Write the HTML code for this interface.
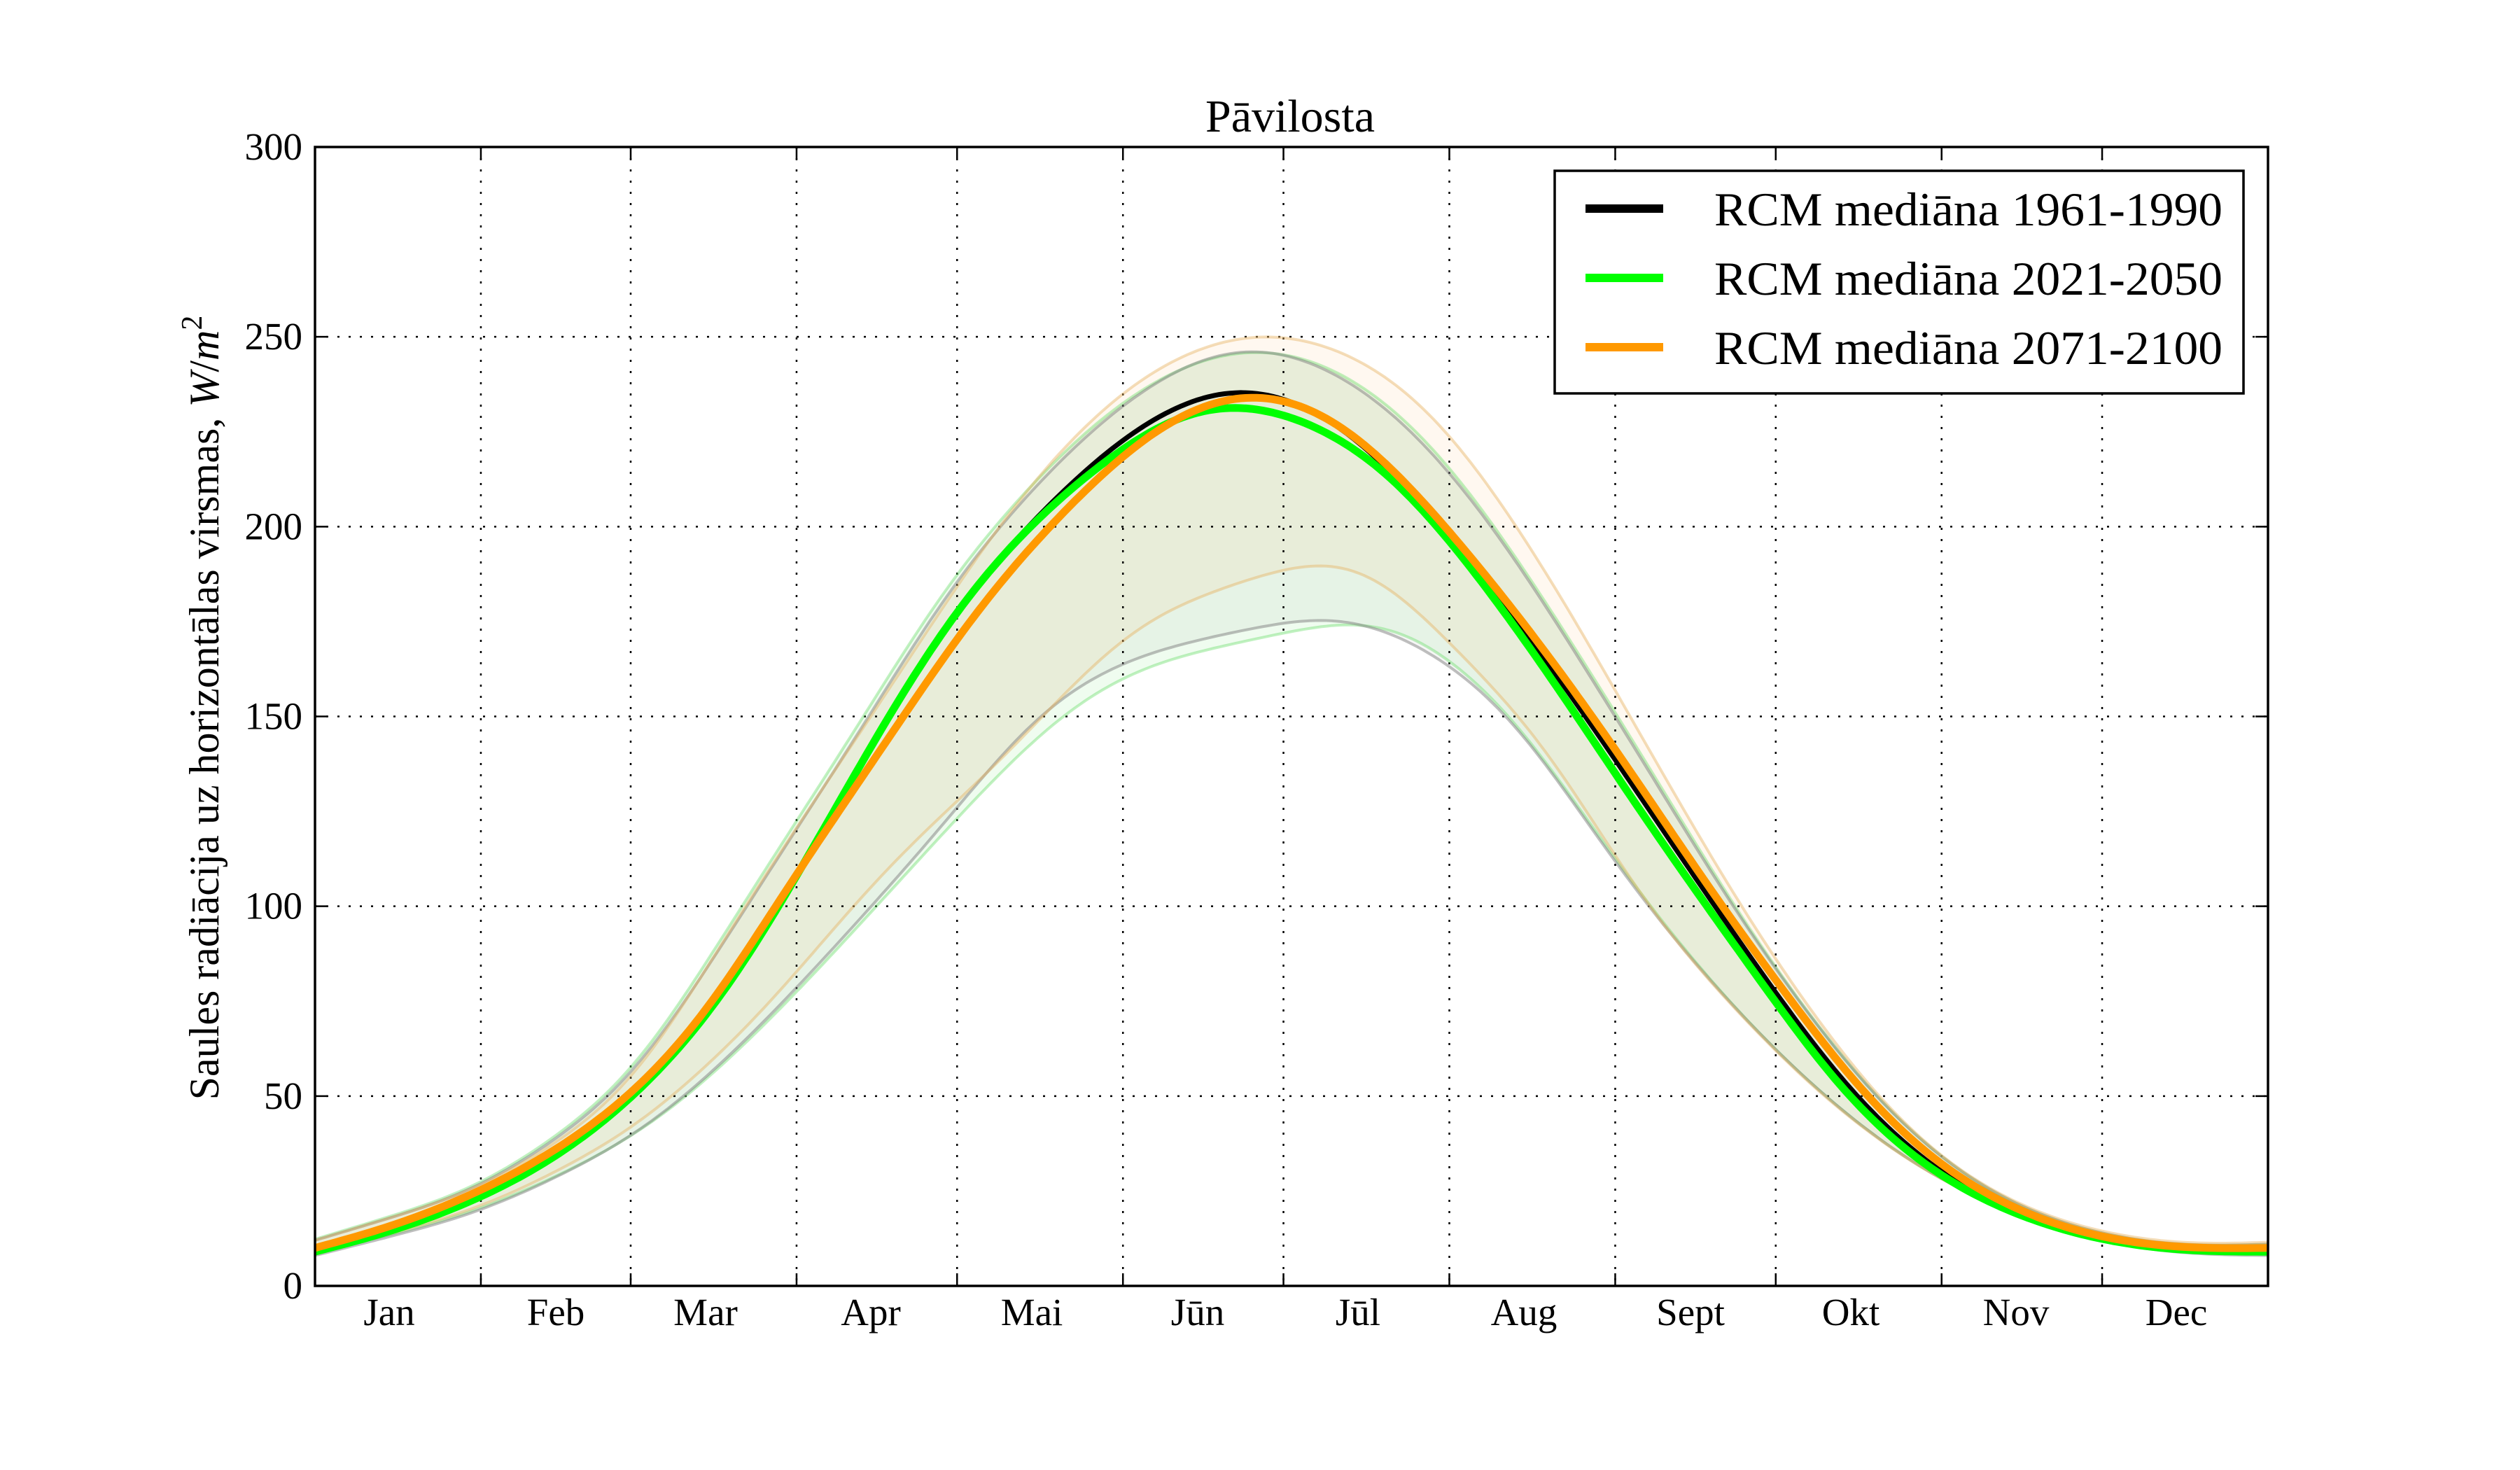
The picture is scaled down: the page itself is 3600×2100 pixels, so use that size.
<!DOCTYPE html>
<html><head><meta charset="utf-8"><style>
html,body{margin:0;padding:0;background:#fff;}
svg{display:block;}
text{font-family:"Liberation Serif",serif;fill:#000;}
</style></head><body>
<svg id="s" width="3600" height="2100" viewBox="0 0 3600 2100" xmlns="http://www.w3.org/2000/svg">
<rect width="3600" height="2100" fill="#fff"/>
<g id="fills"></g>
<g id="grid" stroke="#000" stroke-width="2.5" stroke-dasharray="3,13" fill="none"></g>
<g id="edges" fill="none" stroke-width="4" stroke-linejoin="round"></g>
<g id="meds" fill="none" stroke-linejoin="round" stroke-linecap="butt"></g>
<g id="axes" stroke="#000" fill="none"></g>
<g id="labels"></g>
<text x="1843" y="188" font-size="66" text-anchor="middle">Pāvilosta</text>
<text transform="translate(312,1011) rotate(-90)" font-size="60" text-anchor="middle">Saules radiācija uz horizontālas virsmas, <tspan font-style="italic">W</tspan>/<tspan font-style="italic">m</tspan><tspan font-size="42" dy="-24">2</tspan></text>
<rect x="2221" y="244" width="984" height="318" fill="#fff" stroke="#000" stroke-width="3.5"/>
<line x1="2265" y1="298" x2="2376" y2="298" stroke="#000" stroke-width="12"/>
<line x1="2265" y1="397" x2="2376" y2="397" stroke="#00ff00" stroke-width="12"/>
<line x1="2265" y1="496" x2="2376" y2="496" stroke="#ff9900" stroke-width="12"/>
<text x="2449" y="322" font-size="68" textLength="726" lengthAdjust="spacingAndGlyphs">RCM mediāna 1961-1990</text>
<text x="2449" y="421" font-size="68" textLength="726" lengthAdjust="spacingAndGlyphs">RCM mediāna 2021-2050</text>
<text x="2449" y="520" font-size="68" textLength="726" lengthAdjust="spacingAndGlyphs">RCM mediāna 2071-2100</text>
</svg>
<script>
(function(){
var NS="http://www.w3.org/2000/svg";
function X(d){return 450+d*2790/365;}
function Y(v){return 1837-v*5.4233;}
function el(p,tag,attrs){var e=document.createElementNS(NS,tag);for(var k in attrs)e.setAttribute(k,attrs[k]);p.appendChild(e);return e;}
function smooth(a,sig){
  var xs=[],ys=[];for(var i=0;i<a.length;i+=2){xs.push(a[i]);ys.push(a[i+1]);}
  var N=366,f=[];
  for(var d=0;d<N;d++){var j=0;while(j<xs.length-2&&xs[j+1]<d)j++;
    var t=(d-xs[j])/(xs[j+1]-xs[j]);t=Math.max(0,Math.min(1,t));f.push(ys[j]+(ys[j+1]-ys[j])*t);}
  var R=Math.ceil(sig*3),out=[];
  for(var d=0;d<N;d++){var s=0,w=0;for(var k=-R;k<=R;k++){var q=d+k;
      var v;if(q<0)v=2*f[0]-f[-q];else if(q>=N)v=2*f[N-1]-f[2*(N-1)-q];else v=f[q];
      var ww=Math.exp(-k*k/(2*sig*sig));s+=v*ww;w+=ww;}
    out.push([X(d),Y(s/w)]);}
  return out;
}
function pstr(P,move){var s="";for(var i=0;i<P.length;i++){s+=(i==0?(move?"M":"L"):"L")+P[i][0].toFixed(1)+","+P[i][1].toFixed(1);}return s;}
var SG=9;
var B=[0,8.8,15,14,31,22.5,45,33,59,48,75,72,87,100,97,125,106.6,150,120,180,134,202,150,223.5,162,234,172.6,238.5,182,235.5,195,225,211,200,225,175,237.7,150,250,124,261.5,100,273,77,286.6,50,304,28,320,17,334,11.5,350,8.6,358,8.3,365,8.8];
var G=[0,9,15,14.2,31,22.8,45,33,59,48,75,72,87,100,97,125,106.8,150,120,180,134,202,150,220.5,160,230,169,234,180,231.5,190,225.5,200,217,210.5,200,225,173,236,150,248,124,260,100,272,77,285,50,303,28,320,17,334,11.5,350,8.8,365,9];
var O=[0,10,15,15.5,31,24.6,45,35,59,49,75,73,85.4,100,98,125,110,150,124,180,137.6,201,152,221.5,163,232,174,237,184,234.5,196,224.5,211.6,200,226,175,239,150,251,125,262.5,100,275,77,288.7,50,305,29,320,18,334,12,350,9.5,365,10];
var UB=[0,12,31,25,59,52,80.7,100,92,125,104,150,116,180,128,201,145,226.5,160,242,172,249,185,246,200,233.5,210,219,220.7,200,232,175,243,150,254,125,264.4,100,277,75,290.6,50,305,31,320,19,334,13,350,10,365,11];
var UG=[0,12.3,31,25.5,59,53,79.7,100,91,125,103,150,115,180,127,201,144,226.5,160,242.5,175,248.5,188,245,202,232.5,211,219,221,200,232.5,175,243.5,150,254.5,125,264.8,100,277,75,290.8,50,305,31,320,19,334,13,350,10,365,11];
var UO=[0,12,31,25,59,50,80,100,104,150,128,202,145,230,160,245.5,175.6,252.5,190,249,205,237,215,221,225,200,236,175,245.6,150,256,125,266,100,278,75,291,50,305,31,320,19.5,334,13.5,350,10.5,365,11.5];
var LB=[0,8,31,19,59,38,72,52.7,88,75,104,100,120,125,133,150,147,163,160,169,175,173,190,178,200,174,212,165,225,150,236,125,248.6,100,265,73,281.4,50,300,30,320,17,334,11,350,8,365,8];
var LG=[0,8.5,31,19.5,59,38,72,52,88,74,105,100,121,125,138,150,150,161,160,166,175,170,190,175,199,177,210,169,225,150,236,126,249,100,265,73,281.4,50,300,30,320,17,334,11,350,8.2,365,8.5];
var LO=[0,8.5,31,20,59,40,72,55.8,86,75,100,100,117,125,124.5,132,136,150,141,158,145,164,155,177,170,184,190,193.5,200,189,211,170,220,158,227,150,235,132,248,100,265,73,281,50,300,30,320,17,334,11,350,8.2,365,8.5];
var fills=document.getElementById("fills");
function band(U,L,col){var pu=smooth(U,SG),pl=smooth(L,SG).reverse();el(fills,"path",{d:pstr(pu,true)+pstr(pl,false)+"Z",fill:col});}
band(UG,LG,"rgba(100,230,100,0.10)");
band(UB,LB,"rgba(80,80,80,0.05)");
band(UO,LO,"rgba(250,160,60,0.08)");
var grid=document.getElementById("grid");
[31,59,90,120,151,181,212,243,273,304,334].forEach(function(d){var x=X(d);el(grid,"line",{x1:x,y1:210,x2:x,y2:1837});});
[50,100,150,200,250].forEach(function(v){var y=Y(v);el(grid,"line",{x1:450,y1:y,x2:3240,y2:y});});
var edges=document.getElementById("edges");
function ln(g,a,col,w){el(g,"path",{d:pstr(smooth(a,SG),true),stroke:col,"stroke-width":w});}
ln(edges,UG,"rgba(100,220,100,0.4)",4);ln(edges,LG,"rgba(100,220,100,0.4)",4);
ln(edges,UB,"rgba(128,128,128,0.5)",4);ln(edges,LB,"rgba(128,128,128,0.5)",4);
ln(edges,UO,"rgba(230,180,100,0.45)",4);ln(edges,LO,"rgba(230,180,100,0.45)",4);
var meds=document.getElementById("meds");
ln(meds,B,"#000",7);ln(meds,G,"#00ff00",11);ln(meds,O,"#ff9900",11);
var axes=document.getElementById("axes");
[31,59,90,120,151,181,212,243,273,304,334].forEach(function(d){var x=X(d);
 el(axes,"line",{x1:x,y1:1837,x2:x,y2:1819,"stroke-width":2.5});
 el(axes,"line",{x1:x,y1:210,x2:x,y2:228,"stroke-width":2.5});});
[50,100,150,200,250].forEach(function(v){var y=Y(v);
 el(axes,"line",{x1:450,y1:y,x2:468,y2:y,"stroke-width":2.5});
 el(axes,"line",{x1:3240,y1:y,x2:3222,y2:y,"stroke-width":2.5});});
el(axes,"rect",{x:450,y:210,width:2790,height:1627,"stroke-width":3.5});
var lab=document.getElementById("labels");
[0,50,100,150,200,250,300].forEach(function(v){var t=el(lab,"text",{x:432,y:Y(v)+18,"font-size":55,"text-anchor":"end"});t.textContent=v;});
var mn=["Jan","Feb","Mar","Apr","Mai","Jūn","Jūl","Aug","Sept","Okt","Nov","Dec"];
var mx=[556,794,1008,1244,1474,1711,1940,2177,2415,2644,2880,3109];
for(var i=0;i<12;i++){var t=el(lab,"text",{x:mx[i],y:1893,"font-size":55,"text-anchor":"middle"});t.textContent=mn[i];}
})();
</script>
</body></html>
